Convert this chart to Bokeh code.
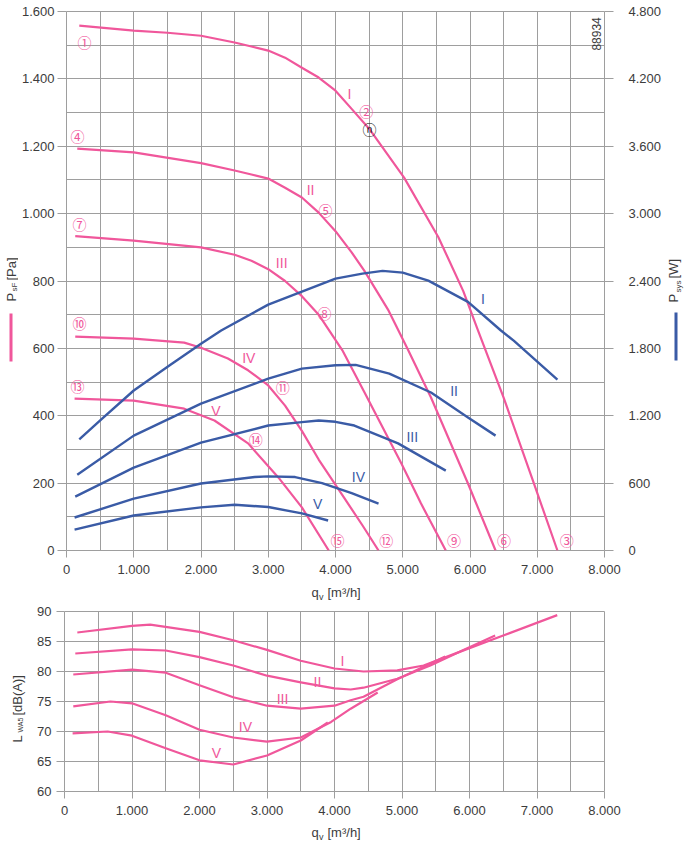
import math
from bokeh.plotting import figure
from bokeh.models import Range1d, LinearAxis, FixedTicker, CustomJSTickFormatter, Label, BoxAnnotation
from bokeh.layouts import column, row
from bokeh.embed import file_html
from bokeh.resources import INLINE

# ---------------- data ----------------
x_ticks = [0, 1000, 2000, 3000, 4000, 5000, 6000, 7000, 8000]
x_grid = list(range(0, 8001, 500))
psf_ticks = [0, 200, 400, 600, 800, 1000, 1200, 1400, 1600]
psf_grid = list(range(0, 1601, 100))
psys_ticks = [0, 600, 1200, 1800, 2400, 3000, 3600, 4200, 4800]
lwa_ticks = [60, 65, 70, 75, 80, 85, 90]
curve_names = ["I", "II", "III", "IV", "V"]

# static pressure psF [Pa] over qv [m3/h]
psf_q_I = [190, 1000, 1500, 2000, 2500, 2750, 3000, 3250, 3500, 3750, 4000, 4240, 4500, 5020, 5530, 5900, 6120, 6500, 6950, 7300]
psf_I = [1558, 1543, 1537, 1528, 1508, 1496, 1484, 1463, 1433, 1404, 1365, 1311, 1252, 1107, 930, 770, 653, 454, 199, 0]
psf_q_II = [160, 1000, 2000, 2500, 2750, 3000, 3250, 3500, 3750, 4000, 4240, 4430, 4790, 5080, 5420, 5970, 6380]
psf_II = [1193, 1182, 1150, 1128, 1116, 1104, 1077, 1048, 1003, 948, 885, 830, 712, 595, 454, 199, 0]
psf_q_III = [130, 1000, 2000, 2500, 2750, 3000, 3250, 3500, 3750, 4100, 4430, 4980, 5270, 5640]
psf_III = [933, 920, 900, 878, 860, 835, 800, 755, 700, 595, 470, 258, 140, 0]
psf_q_IV = [130, 1000, 1750, 2000, 2400, 2700, 3000, 3250, 3500, 3750, 4100, 4400, 4640]
psf_IV = [635, 629, 617, 602, 570, 535, 490, 430, 355, 270, 165, 75, 0]
psf_q_V = [120, 1000, 1750, 2200, 2700, 3150, 3500, 3900]
psf_V = [451, 445, 421, 386, 318, 217, 128, 0]

# power input Psys [W]
psys_q_I = [190, 530, 1000, 1530, 2000, 2300, 3000, 4000, 4400, 4700, 5000, 5380, 5970, 6460, 6650, 7300]
psys_I = [990, 1175, 1425, 1647, 1842, 1959, 2190, 2421, 2466, 2490, 2475, 2403, 2214, 1959, 1869, 1521]
psys_q_II = [160, 1000, 2000, 3000, 3500, 4000, 4300, 4800, 5420, 5970, 6380]
psys_II = [675, 1023, 1308, 1530, 1620, 1650, 1653, 1575, 1407, 1185, 1023]
psys_q_III = [130, 1000, 2000, 3000, 3500, 3750, 4000, 4280, 4930, 5640]
psys_III = [480, 738, 960, 1113, 1143, 1158, 1146, 1113, 954, 711]
psys_q_IV = [120, 1000, 2000, 2800, 3000, 3400, 3800, 4240, 4640]
psys_IV = [294, 462, 597, 654, 660, 654, 600, 510, 417]
psys_q_V = [120, 1000, 2000, 2500, 3000, 3500, 3890]
psys_V = [186, 312, 384, 408, 387, 330, 267]

# sound power level LWA5 [dB(A)]
lwa_q_I = [190, 1000, 1270, 2000, 2500, 3000, 3500, 4000, 4430, 4930, 5320, 5650, 6000, 6500, 7300]
lwa_I = [86.5, 87.6, 87.8, 86.6, 85.2, 83.6, 81.8, 80.5, 80.0, 80.2, 81.0, 82.4, 83.9, 86.0, 89.4]
lwa_q_II = [160, 1000, 1500, 2000, 2500, 3000, 3500, 4000, 4240, 4430, 4930, 5420, 5910, 6380]
lwa_II = [83.0, 83.7, 83.5, 82.4, 81.0, 79.3, 78.2, 77.2, 77.0, 77.3, 78.8, 81.0, 83.6, 86.0]
lwa_q_III = [130, 1000, 1500, 2000, 2500, 3000, 3500, 4000, 4240, 4430, 4930, 5640]
lwa_III = [79.5, 80.3, 79.8, 77.7, 75.7, 74.3, 73.8, 74.3, 75.2, 75.8, 78.7, 82.5]
lwa_q_IV = [130, 680, 1000, 1500, 2000, 2500, 3000, 3500, 3950, 4240, 4640]
lwa_IV = [74.2, 75.0, 74.7, 72.7, 70.3, 69.0, 68.3, 69.0, 71.6, 73.8, 76.5]
lwa_q_V = [120, 640, 1000, 1500, 2000, 2500, 3000, 3500, 3900]
lwa_V = [69.7, 70.0, 69.3, 67.2, 65.2, 64.5, 66.0, 68.5, 71.5]

point_marks = ["①", "②", "③", "④", "⑤", "⑥", "⑦", "⑧", "⑨", "⑩", "⑪", "⑫", "⑬", "⑭", "⑮"]

# ---------------- style ----------------
PINK = "#f0579b"
BLUE = "#3a5ba6"
GRID = "#9e9e9e"
TXT = "#3c3c3c"
FONT = "Liberation Sans"
CIRC_FONT = "Noto Sans CJK JP"
UP = math.pi / 2

fmt = CustomJSTickFormatter(code=r"return String(Math.round(tick)).replace(/\B(?=(\d{3})+(?!\d))/g, '.');")


def style_axis(ax, out=8, standoff=4):
    ax.axis_line_color = None
    ax.major_tick_line_color = GRID
    ax.major_tick_out = out
    ax.major_tick_in = 0
    ax.minor_tick_line_color = None
    ax.major_label_text_font = FONT
    ax.major_label_text_font_size = "13px"
    ax.major_label_text_color = TXT
    ax.major_label_standoff = standoff
    ax.formatter = fmt


def make_fig(w, h, left, right, top, bottom, yr):
    p = figure(width=w, height=h, x_range=Range1d(0, 8000), y_range=yr,
               output_backend="svg", toolbar_location=None,
               min_border_left=left, min_border_right=right,
               min_border_top=top, min_border_bottom=bottom)
    p.outline_line_color = GRID
    p.outline_line_width = 1
    p.grid.grid_line_color = GRID
    p.grid.grid_line_width = 1
    p.grid.grid_line_alpha = 1
    p.background_fill_color = "white"
    p.border_fill_color = "white"
    p.xaxis.ticker = FixedTicker(ticks=x_ticks)
    p.xgrid.ticker = FixedTicker(ticks=x_grid)
    style_axis(p.xaxis[0], out=7, standoff=7)
    return p


def text_fig(w, h, y_top, y_bottom):
    # blank panel; its frame is aligned with the neighbouring chart's frame,
    # so its y range is given in page pixels (downwards)
    f = figure(width=w, height=h, x_range=Range1d(0, w), y_range=Range1d(y_bottom, y_top),
               output_backend="svg", toolbar_location=None,
               min_border_left=0, min_border_right=0, min_border_top=0, min_border_bottom=0,
               x_axis_type=None, y_axis_type=None)
    f.outline_line_color = None
    f.background_fill_color = "white"
    f.border_fill_color = "white"
    return f


def txt(p, x, y, text, size="13px", color=TXT, align="center", baseline="middle",
        angle=0.0, font=FONT, yr=None):
    lab = Label(x=x, y=y, text=text, text_font=font, text_font_size=size,
                text_color=color, text_align=align, text_baseline=baseline, angle=angle)
    if yr:
        lab.y_range_name = yr
    p.add_layout(lab)


def bar(p, l, r, t, b, color):
    p.add_layout(BoxAnnotation(left=l, right=r, top=t, bottom=b,
                               fill_color=color, fill_alpha=1, line_color=None))


LW1, RW1 = 18, 25
LW2 = 28
H1, HT1 = 580, 23
H2, HT2 = 217, 27
W = 689

# ---------------- top chart ----------------
p1 = make_fig(W - LW1 - RW1, H1, 64 - LW1, 689 - RW1 - 604, 11, H1 - 550, Range1d(0, 1600))
p1.extra_y_ranges = {"pw": Range1d(0, 4800)}
p1.yaxis.ticker = FixedTicker(ticks=psf_ticks)
p1.ygrid.ticker = FixedTicker(ticks=psf_grid)
style_axis(p1.yaxis[0], out=9, standoff=3)
rax = LinearAxis(y_range_name="pw", ticker=FixedTicker(ticks=psys_ticks))
style_axis(rax, out=9, standoff=15)
p1.add_layout(rax, "right")

psf_sets = [(psf_q_I, psf_I), (psf_q_II, psf_II), (psf_q_III, psf_III),
            (psf_q_IV, psf_IV), (psf_q_V, psf_V)]
psys_sets = [(psys_q_I, psys_I), (psys_q_II, psys_II), (psys_q_III, psys_III),
             (psys_q_IV, psys_IV), (psys_q_V, psys_V)]
for q, v in psf_sets:
    p1.line(q, v, line_color=PINK, line_width=2.2, line_join="round")
for q, v in psys_sets:
    p1.line(q, v, y_range_name="pw", line_color=BLUE, line_width=2.4, line_join="round")

mark_pos = [(267, 1510), (4459, 1306), (7437, 30),
            (163, 1231), (3852, 1012), (6504, 30),
            (193, 970), (3837, 706), (5763, 30),
            (193, 674), (3215, 484), (4756, 30),
            (163, 487), (2815, 332), (4030, 30)]
for m, (mx, my) in zip(point_marks, mark_pos):
    txt(p1, mx, my, m, size="14px", color=PINK, font=CIRC_FONT)
txt(p1, 4504, 1252, "ⓝ", size="14px", color="#222222", font=CIRC_FONT)

psf_name_pos = [(4207, 1356), (3630, 1071), (3200, 852), (2711, 570), (2222, 415)]
psys_name_pos = [(6193, 2244), (5763, 1416), (5141, 1014), (4341, 651), (3733, 417)]
for n, (nx, ny) in zip(curve_names, psf_name_pos):
    txt(p1, nx, ny, n, size="14px", color=PINK)
for n, (nx, ny) in zip(curve_names, psys_name_pos):
    txt(p1, nx, ny, n, size="14px", color=BLUE, yr="pw")

txt(p1, 7881, 1484, "88934", size="12px", color=TXT, align="left", angle=UP)

# side panels (frame aligned with the chart frame: page y 11..550)
l1 = text_fig(LW1, H1, 11, 550)
txt(l1, 11, 301, "P", align="left", angle=UP)
txt(l1, 13.5, 291, "sF", size="8px", align="left", angle=UP)
txt(l1, 11, 280, "[Pa]", align="left", angle=UP)
bar(l1, 9, 12, 313, 361, PINK)

r1 = text_fig(RW1, H1, 11, 550)
x0 = 689 - RW1
txt(r1, 673 - x0, 302, "P", align="left", angle=UP)
txt(r1, 678 - x0, 292, "sys", size="8px", align="left", angle=UP)
txt(r1, 673 - x0, 278, "[W]", align="left", angle=UP)
bar(r1, 674 - x0, 677 - x0, 312, 360, BLUE)

t1 = text_fig(W, HT1, H1, H1 + HT1)
txt(t1, 311, 592, "q", align="left")
txt(t1, 318.5, 596, "v", size="9px", align="left")
txt(t1, 327, 592, "[m³/h]", align="left")

# ---------------- bottom chart ----------------
Y2 = H1 + HT1
p2 = make_fig(W - LW2, H2, 64 - LW2, 689 - 604, 611 - Y2, Y2 + H2 - 791, Range1d(60, 90))
p2.yaxis.ticker = FixedTicker(ticks=lwa_ticks)
p2.ygrid.ticker = FixedTicker(ticks=lwa_ticks)
style_axis(p2.yaxis[0], out=8, standoff=5)

lwa_sets = [(lwa_q_I, lwa_I), (lwa_q_II, lwa_II), (lwa_q_III, lwa_III),
            (lwa_q_IV, lwa_IV), (lwa_q_V, lwa_V)]
for q, v in lwa_sets:
    p2.line(q, v, line_color=PINK, line_width=2.2, line_join="round")

lwa_name_pos = [(4119, 81.8), (3748, 78.3), (3230, 75.5), (2681, 70.7), (2252, 66.5)]
for n, (nx, ny) in zip(curve_names, lwa_name_pos):
    txt(p2, nx, ny, n, size="14px", color=PINK)

l2 = text_fig(LW2, H2, 611, 791)
txt(l2, 17, 742, "L", align="left", angle=UP)
txt(l2, 20, 732, "WA5", size="7px", align="left", angle=UP)
txt(l2, 17, 715, "[dB(A)]", align="left", angle=UP)

Y3 = Y2 + H2
t2 = text_fig(W, HT2, Y3, Y3 + HT2)
txt(t2, 311, 832, "q", align="left")
txt(t2, 318.5, 836, "v", size="9px", align="left")
txt(t2, 327, 832, "[m³/h]", align="left")

layout = column(row(l1, p1, r1, spacing=0), t1, row(l2, p2, spacing=0), t2, spacing=0)
open("out.html", "w").write(file_html(layout, INLINE))
